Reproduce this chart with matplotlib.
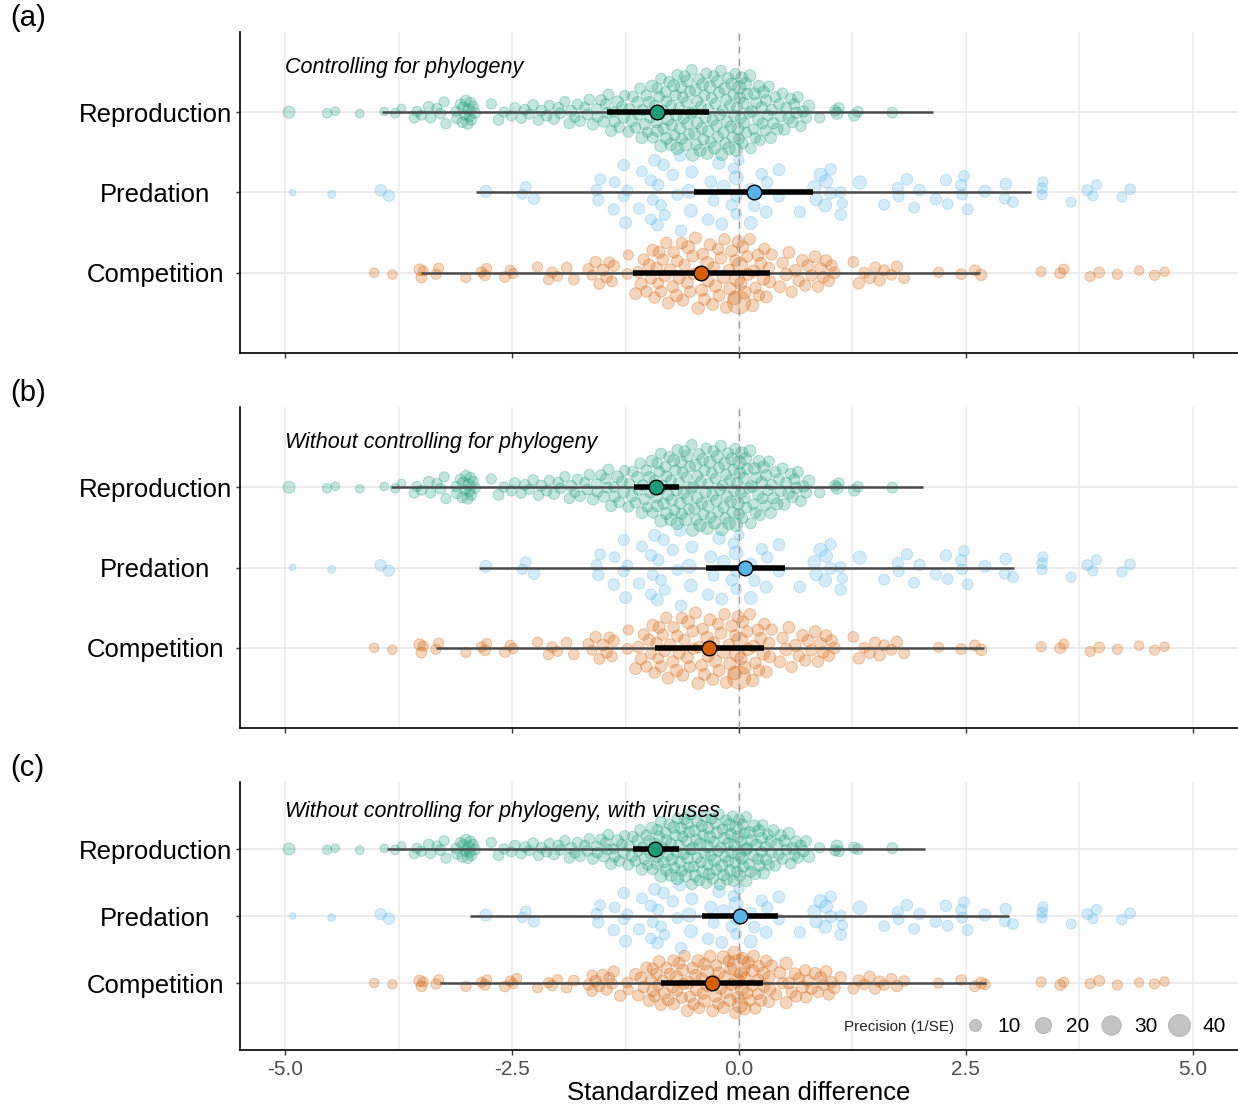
import numpy as np
import matplotlib.pyplot as plt
import matplotlib.colors as mc
from matplotlib.lines import Line2D

plt.rcParams['font.family'] = ['Liberation Sans', 'DejaVu Sans']
plt.rcParams['axes.unicode_minus'] = False

# moderators, bottom to top
moderators = ['Competition', 'Predation', 'Reproduction']
colors = {'Reproduction': '#1b9e77', 'Predation': '#56B4E9', 'Competition': '#D55E00'}

# effect sizes: (standardized mean difference, precision 1/SE)
reproduction = [
    (-4.96, 10), (-4.54, 6), (-4.45, 5), (-4.18, 5), (-3.91, 5), (-3.79, 6), (-3.72, 5), (-3.58, 7),
    (-3.55, 7), (-3.50, 7), (-3.42, 8), (-3.40, 7), (-3.33, 7), (-3.29, 8), (-3.25, 7), (-3.23, 7),
    (-3.12, 7), (-3.11, 8), (-3.07, 7), (-3.05, 8), (-3.04, 9), (-3.02, 7), (-3.01, 8), (-2.99, 8),
    (-2.98, 9), (-2.97, 7), (-2.96, 8), (-2.95, 8), (-2.93, 7), (-2.91, 8), (-2.73, 7), (-2.65, 8),
    (-2.59, 7), (-2.51, 7), (-2.47, 8), (-2.40, 7), (-2.36, 8), (-2.31, 7), (-2.27, 8), (-2.21, 7),
    (-2.18, 8), (-2.12, 8), (-2.09, 7), (-2.04, 9), (-1.99, 8), (-1.97, 8), (-1.92, 7), (-1.87, 8),
    (-1.85, 9), (-1.81, 7), (-1.78, 8), (-1.75, 8), (-1.70, 7), (-1.67, 8), (-1.65, 8), (-1.61, 9),
    (-1.57, 7), (-1.56, 8), (-1.52, 8), (-1.49, 9), (-1.47, 7), (-1.45, 8), (-1.44, 8), (-1.41, 9),
    (-1.38, 7), (-1.37, 8), (-1.34, 10), (-1.32, 8), (-1.29, 8), (-1.27, 9), (-1.26, 7), (-1.22, 8),
    (-1.21, 8), (-1.18, 10), (-1.17, 8), (-1.14, 8), (-1.12, 9), (-1.11, 7), (-1.09, 8), (-1.07, 10),
    (-1.06, 8), (-1.04, 9), (-1.02, 8), (-1.01, 7), (-0.99, 9), (-0.98, 8), (-0.96, 10), (-0.95, 8),
    (-0.93, 8), (-0.91, 9), (-0.90, 8), (-0.90, 10), (-0.88, 8), (-0.87, 9), (-0.86, 8), (-0.86, 11),
    (-0.84, 8), (-0.83, 9), (-0.81, 8), (-0.80, 10), (-0.80, 8), (-0.78, 9), (-0.77, 8), (-0.75, 11),
    (-0.75, 8), (-0.74, 9), (-0.72, 10), (-0.71, 8), (-0.70, 8), (-0.69, 9), (-0.68, 8), (-0.68, 11),
    (-0.66, 8), (-0.65, 9), (-0.64, 10), (-0.63, 8), (-0.62, 8), (-0.61, 9), (-0.60, 8), (-0.59, 11),
    (-0.58, 8), (-0.57, 9), (-0.57, 10), (-0.55, 8), (-0.54, 8), (-0.53, 9), (-0.52, 8), (-0.51, 11),
    (-0.50, 8), (-0.49, 9), (-0.48, 10), (-0.47, 8), (-0.46, 8), (-0.46, 9), (-0.44, 8), (-0.43, 11),
    (-0.42, 8), (-0.41, 9), (-0.40, 10), (-0.39, 8), (-0.38, 8), (-0.37, 9), (-0.36, 8), (-0.35, 11),
    (-0.34, 8), (-0.34, 9), (-0.32, 10), (-0.31, 8), (-0.30, 8), (-0.29, 9), (-0.28, 8), (-0.27, 11),
    (-0.26, 8), (-0.25, 9), (-0.24, 10), (-0.23, 8), (-0.22, 8), (-0.21, 9), (-0.20, 8), (-0.19, 11),
    (-0.18, 8), (-0.17, 9), (-0.16, 10), (-0.15, 8), (-0.14, 8), (-0.13, 9), (-0.12, 8), (-0.11, 11),
    (-0.10, 8), (-0.09, 9), (-0.08, 10), (-0.07, 8), (-0.06, 8), (-0.05, 9), (-0.04, 8), (-0.03, 12),
    (-0.02, 9), (-0.01, 10), (0.00, 13), (0.00, 8), (0.01, 9), (0.02, 8), (0.03, 10), (0.04, 8),
    (0.05, 9), (0.06, 8), (0.07, 11), (0.08, 8), (0.09, 9), (0.11, 8), (0.12, 10), (0.13, 8),
    (0.14, 9), (0.16, 8), (0.17, 10), (0.18, 8), (0.19, 9), (0.21, 8), (0.22, 10), (0.23, 8),
    (0.25, 9), (0.26, 8), (0.27, 10), (0.29, 8), (0.30, 9), (0.32, 8), (0.33, 8), (0.35, 9),
    (0.36, 8), (0.38, 9), (0.40, 8), (0.42, 10), (0.44, 8), (0.46, 9), (0.48, 8), (0.50, 9),
    (0.52, 8), (0.55, 10), (0.57, 8), (0.59, 9), (0.61, 8), (0.63, 9), (0.65, 8), (0.68, 8),
    (0.71, 9), (0.74, 8), (0.77, 10), (0.89, 7), (1.06, 8), (1.08, 10), (1.10, 8), (1.27, 9),
    (1.31, 8), (1.69, 8),
]

predation = [
    (-4.92, 3), (-4.49, 4), (-3.95, 9), (-3.86, 9), (-2.79, 10), (-2.39, 7), (-2.35, 8), (-2.26, 9),
    (-1.57, 8), (-1.55, 9), (-1.53, 8), (-1.38, 9), (-1.37, 8), (-1.27, 8), (-1.27, 9), (-1.25, 10),
    (-1.23, 8), (-1.10, 9), (-1.07, 8), (-0.97, 8), (-0.97, 9), (-0.95, 8), (-0.93, 10), (-0.90, 10),
    (-0.89, 9), (-0.86, 8), (-0.83, 9), (-0.82, 8), (-0.73, 9), (-0.68, 8), (-0.65, 10), (-0.64, 9),
    (-0.55, 14), (-0.53, 12), (-0.52, 10), (-0.34, 9), (-0.31, 10), (-0.28, 8), (-0.22, 11), (-0.19, 10),
    (-0.17, 12), (-0.08, 9), (-0.06, 8), (-0.03, 8), (-0.03, 14), (-0.03, 9), (0.00, 7), (0.13, 12),
    (0.31, 9), (0.25, 9), (0.13, 10), (0.17, 9), (0.30, 10), (0.44, 8), (0.44, 10), (0.67, 9),
    (0.83, 12), (0.90, 13), (0.96, 12), (0.85, 11), (0.95, 12), (1.01, 10), (1.01, 9), (1.12, 9),
    (1.12, 8), (1.14, 7), (1.33, 13), (1.60, 8), (1.75, 9), (1.76, 8), (1.85, 9), (1.93, 8),
    (1.99, 9), (2.17, 9), (2.28, 9), (2.30, 8), (2.45, 9), (2.48, 8), (2.52, 8), (2.46, 8),
    (2.71, 10), (2.94, 9), (2.93, 8), (3.02, 8), (3.34, 8), (3.35, 7), (3.34, 7), (3.66, 7),
    (3.84, 8), (3.94, 7), (3.90, 7), (4.22, 7), (4.31, 8),
]

competition = [
    (-4.02, 6), (-3.82, 6), (-3.52, 9), (-3.48, 7), (-3.50, 8), (-3.34, 7), (-3.31, 7), (-3.01, 7),
    (-2.84, 7), (-2.80, 8), (-2.78, 7), (-2.58, 8), (-2.52, 7), (-2.49, 7), (-2.22, 7), (-2.10, 7),
    (-2.06, 8), (-2.00, 7), (-1.90, 8), (-1.82, 8), (-1.66, 8), (-1.62, 7), (-1.58, 9), (-1.54, 8),
    (-1.50, 10), (-1.46, 9), (-1.43, 8), (-1.40, 8), (-1.38, 9), (-1.23, 8), (-1.22, 7), (-1.14, 10),
    (-1.11, 9), (-1.08, 10), (-1.05, 9), (-1.02, 9), (-0.99, 10), (-0.97, 8), (-0.95, 10), (-0.93, 9),
    (-0.91, 9), (-0.89, 8), (-0.88, 10), (-0.86, 9), (-0.84, 9), (-0.82, 10), (-0.80, 9), (-0.78, 10),
    (-0.76, 9), (-0.73, 10), (-0.72, 9), (-0.69, 11), (-0.68, 9), (-0.66, 10), (-0.63, 9), (-0.62, 10),
    (-0.60, 9), (-0.57, 10), (-0.56, 12), (-0.54, 9), (-0.51, 10), (-0.50, 9), (-0.48, 10), (-0.45, 11),
    (-0.44, 9), (-0.41, 10), (-0.40, 9), (-0.38, 10), (-0.35, 12), (-0.34, 9), (-0.32, 10), (-0.29, 10),
    (-0.28, 9), (-0.26, 11), (-0.23, 9), (-0.22, 10), (-0.20, 10), (-0.17, 12), (-0.16, 9), (-0.14, 10),
    (-0.11, 9), (-0.10, 11), (-0.08, 10), (-0.05, 13), (-0.04, 9), (-0.02, 16), (-0.01, 10), (0.00, 44),
    (0.01, 18), (0.02, 11), (0.04, 10), (0.06, 12), (0.09, 9), (0.10, 10), (0.12, 9), (0.15, 11),
    (0.16, 10), (0.18, 9), (0.21, 10), (0.22, 9), (0.24, 10), (0.27, 11), (0.28, 9), (0.30, 10),
    (0.33, 9), (0.34, 10), (0.36, 9), (0.45, 10), (0.48, 9), (0.52, 11), (0.55, 10), (0.58, 9),
    (0.62, 10), (0.66, 9), (0.70, 10), (0.73, 9), (0.76, 10), (0.80, 9), (0.84, 10), (0.87, 9),
    (0.90, 10), (0.93, 9), (0.96, 10), (0.99, 9), (1.02, 9), (1.05, 10), (1.26, 8), (1.32, 9),
    (1.38, 8), (1.44, 9), (1.50, 8), (1.55, 9), (1.60, 8), (1.68, 8), (1.74, 9), (1.82, 8),
    (2.20, 7), (2.45, 8), (2.60, 8), (2.67, 9), (3.33, 7), (3.54, 8), (3.58, 7), (3.87, 7),
    (3.97, 8), (4.17, 7), (4.41, 6), (4.58, 7), (4.69, 6),
]

# extra effect sizes that enter panel (c) with the virus studies
reproduction_viruses = [(-0.55, 9), (-0.33, 10), (-0.12, 8), (0.08, 9), (0.25, 8)]
competition_viruses = [
    (-2.45, 7), (-1.62, 8), (-1.31, 9), (-0.95, 9), (-0.72, 10), (-0.61, 9), (-0.47, 10), (-0.38, 11),
    (-0.25, 9), (-0.17, 10), (-0.09, 10), (0.03, 12), (0.07, 9), (0.15, 10), (0.21, 9), (0.33, 10),
    (0.41, 9), (0.52, 10), (0.63, 9), (0.74, 9), (1.12, 9), (2.71, 8),
]

# model estimates: mean, CI low, CI high, PI low, PI high
est_a = {'Reproduction': (-0.90, -1.46, -0.33, -3.94, 2.14),
         'Predation': (0.17, -0.50, 0.82, -2.90, 3.22),
         'Competition': (-0.42, -1.17, 0.34, -3.51, 2.66)}
est_b = {'Reproduction': (-0.92, -1.16, -0.66, -3.84, 2.03),
         'Predation': (0.07, -0.36, 0.51, -2.87, 3.03),
         'Competition': (-0.33, -0.93, 0.28, -3.34, 2.70)}
est_c = {'Reproduction': (-0.93, -1.17, -0.66, -3.88, 2.05),
         'Predation': (0.01, -0.41, 0.43, -2.97, 2.98),
         'Competition': (-0.30, -0.86, 0.26, -3.30, 2.72)}

titles = ['Controlling for phylogeny', 'Without controlling for phylogeny',
          'Without controlling for phylogeny, with viruses']
panel_tags = ['(a)', '(b)', '(c)']
legend_precision = [10, 20, 30, 40]


def vdc(n):
    v, denom = 0.0, 1.0
    while n:
        denom *= 2
        n, r = divmod(n, 2)
        v += r / denom
    return v


def quasirandom(x, width, bw):
    # deterministic beeswarm-like offsets, scaled by local density
    x = np.asarray(x)
    d = np.exp(-0.5 * ((x[:, None] - x[None, :]) / bw) ** 2).sum(1)
    d = d / d.max()
    off = np.zeros(len(x))
    for k, i in enumerate(np.argsort(x, kind='stable')):
        off[i] = (2 * vdc(k + 1) - 1) * width * d[i]
    return off


def diam_px(p):
    p = np.asarray(p, dtype=float)
    return 3.5 + 18.9 * np.sqrt(np.clip((p - 2) / 40, 0, None))


def rgba(c, a):
    r, g, b = mc.to_rgb(c)
    return (r, g, b, a)


fig = plt.figure(figsize=(12.38, 11.07), dpi=100)
W, H = 1238, 1107
boxes = [(32, 353), (407, 728), (782, 1050)]

data_ab = {'Reproduction': reproduction, 'Predation': predation, 'Competition': competition}
data_c = {'Reproduction': reproduction + reproduction_viruses, 'Predation': predation,
          'Competition': competition + competition_viruses}
widths = {'Reproduction': 0.55, 'Predation': 0.5, 'Competition': 0.47}
bws = {'Reproduction': 0.2, 'Predation': 0.35, 'Competition': 0.22}

axes = []
for k, (top, bot) in enumerate(boxes):
    ax = fig.add_axes([240 / W, 1 - bot / H, 998 / W, (bot - top) / H])
    axes.append(ax)
    data = data_c if k == 2 else data_ab
    est = [est_a, est_b, est_c][k]

    for j, m in enumerate(moderators):
        y0 = j + 1
        xs = np.array([v[0] for v in data[m]])
        ps = np.array([v[1] for v in data[m]])
        ys = y0 + quasirandom(xs, widths[m], bws[m])
        s = (diam_px(ps) * 0.72) ** 2
        order = np.argsort(-ps)
        ax.scatter(xs[order], ys[order], s=s[order], facecolor=rgba(colors[m], 0.25),
                   edgecolor=rgba(colors[m], 0.32), linewidth=0.7, zorder=2)

        mean, cl, ch, pl, ph = est[m]
        ax.plot([pl, ph], [y0, y0], color='#4a4a4a', lw=1.8, solid_capstyle='butt', zorder=4)
        ax.plot([cl, ch], [y0, y0], color='black', lw=4.0, solid_capstyle='butt', zorder=5)
        ax.plot([mean], [y0], 'o', ms=10.5, mfc=colors[m], mec='black', mew=1.0, zorder=6)

    ax.axvline(0, color='#9a9a9a', lw=1.0, ls=(0, (5, 4)), zorder=3)
    ax.set_xlim(-5.5, 5.5)
    ax.set_ylim(0, 4)
    ax.set_xticks([-5, -2.5, 0, 2.5, 5])
    ax.set_xticks([-3.75, -1.25, 1.25, 3.75], minor=True)
    ax.grid(which='both', axis='x', color='#ebebeb', lw=1.1, zorder=0)
    ax.grid(which='major', axis='y', color='#ebebeb', lw=1.4, zorder=0)
    ax.set_axisbelow(True)
    ax.set_yticks([1, 2, 3])
    ax.set_yticklabels(moderators, fontsize=18.5)
    for t in ax.get_yticklabels():
        t.set_horizontalalignment('center')
    ax.tick_params(axis='y', length=3, width=1, pad=58, color='#333333')
    ax.tick_params(axis='x', which='major', length=3.5, width=1, color='#333333')
    ax.tick_params(axis='x', which='minor', length=0)
    for sp in ['top', 'right']:
        ax.spines[sp].set_visible(False)
    for sp in ['left', 'bottom']:
        ax.spines[sp].set_linewidth(1.2)
    if k < 2:
        ax.set_xticklabels([])
    else:
        ax.set_xticklabels(['-5.0', '-2.5', '0.0', '2.5', '5.0'], fontsize=15, color='#4d4d4d')
        ax.set_xlabel('Standardized mean difference', fontsize=18.5, labelpad=2)

    ax.text(-5.0, 3.56, titles[k], style='italic', fontsize=15.5, ha='left', va='center')
    fig.text(10 / W, 1 - (top - 14) / H, panel_tags[k], fontsize=21, ha='left', va='center')

# size legend inside panel (c)
ax = axes[2]
handles = [Line2D([], [], ls='none', marker='o', ms=float(diam_px(p)) * 0.72,
                  mfc='#c4c4c4', mec='#b0b0b0', mew=0.6) for p in legend_precision]
leg = ax.legend(handles, [str(p) for p in legend_precision], ncol=4, loc='center right',
                bbox_to_anchor=(1.0, 0.086), frameon=False, fontsize=15, handletextpad=0.5,
                columnspacing=0.45, borderaxespad=0.2, handlelength=1.2)
ax.text(0.716, 0.086, 'Precision (1/SE)', transform=ax.transAxes, fontsize=11,
        ha='right', va='center', color='#222222')

fig.savefig('out.png', dpi=100)
